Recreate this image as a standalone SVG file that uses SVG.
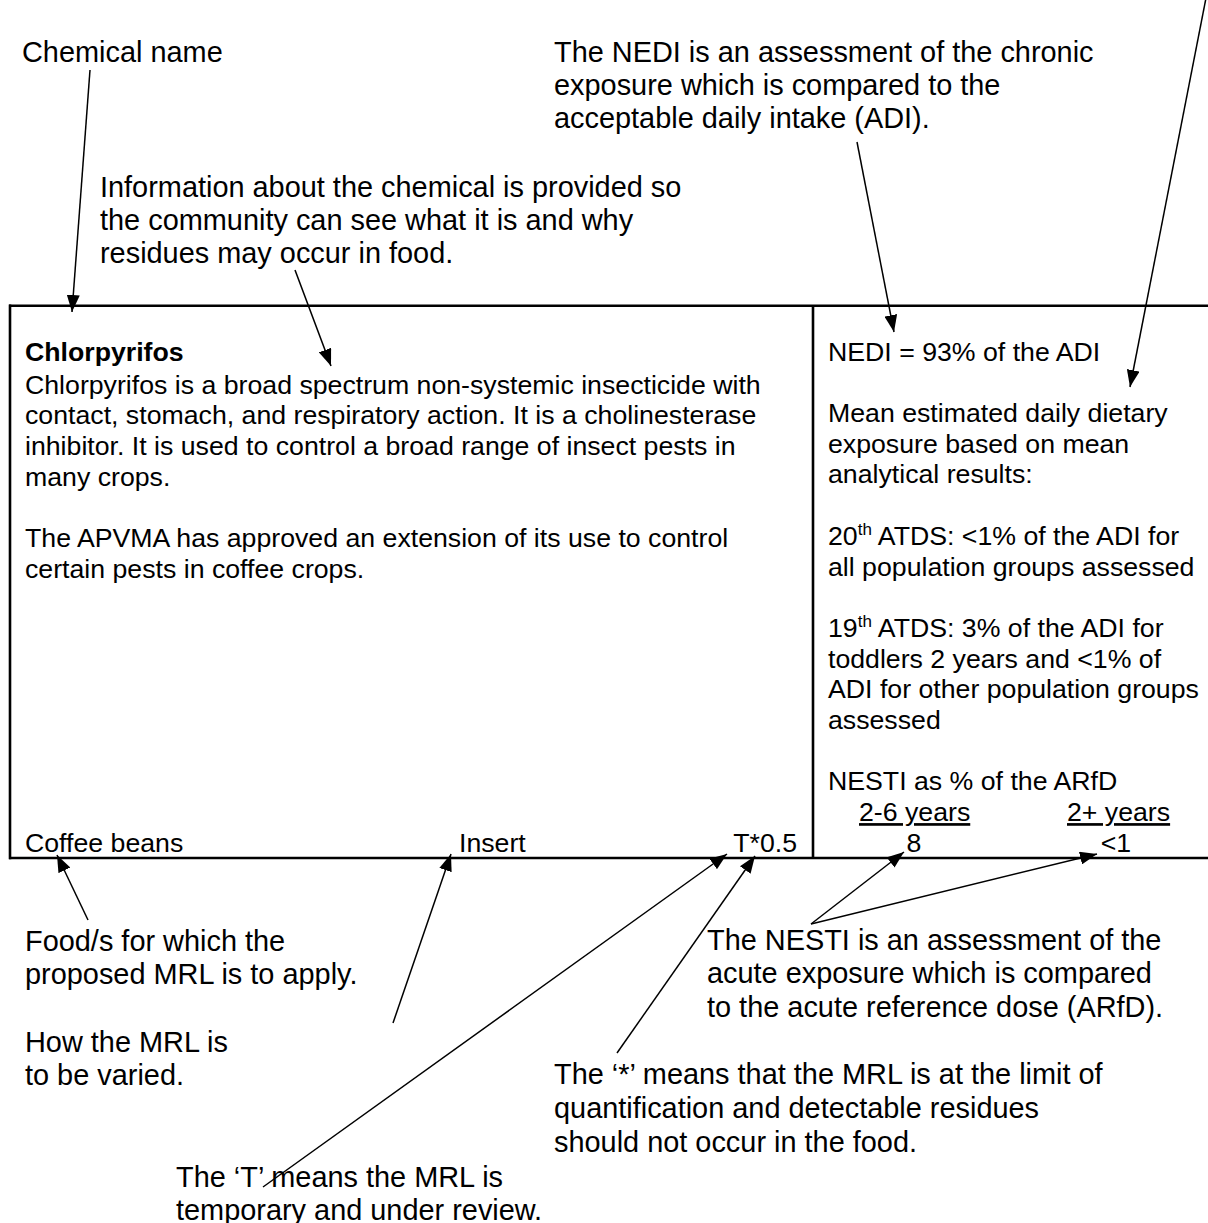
<svg xmlns="http://www.w3.org/2000/svg" width="1208" height="1223" viewBox="0 0 1208 1223">
<style>
text{font-family:"Liberation Sans",Arial,sans-serif;fill:#000}
.ann{font-size:28.9px}
.box{font-size:26.7px}
.b{font-weight:bold}
.sup{font-size:17px}
.u{text-decoration:underline}
.frame{stroke:#000;stroke-width:2.6;fill:none}
.con line{stroke:#000;stroke-width:1.5}
</style>
<defs>
<marker id="ah" viewBox="0 0 17 13" refX="17" refY="6.5" markerWidth="17" markerHeight="13" markerUnits="userSpaceOnUse" orient="auto"><path d="M0,0 L17,6.5 L0,13 z" fill="#000"/></marker>
</defs>
<rect width="1208" height="1223" fill="#fff"/>

<g id="table">
<line class="frame" x1="9" y1="305.7" x2="1210" y2="305.7"/>
<line class="frame" x1="9" y1="858" x2="1210" y2="858"/>
<line class="frame" x1="10" y1="304.5" x2="10" y2="859.2"/>
<line class="frame" x1="813" y1="305.7" x2="813" y2="858"/>
</g>

<g id="chemical-info">
<text class="box b" x="25" y="361">Chlorpyrifos</text>
<text class="box" x="25" y="393.5">Chlorpyrifos is a broad spectrum non-systemic insecticide with</text>
<text class="box" x="25" y="424.2">contact, stomach, and respiratory action. It is a cholinesterase</text>
<text class="box" x="25" y="454.9">inhibitor. It is used to control a broad range of insect pests in</text>
<text class="box" x="25" y="485.6">many crops.</text>
<text class="box" x="25" y="547">The APVMA has approved an extension of its use to control</text>
<text class="box" x="25" y="577.7">certain pests in coffee crops.</text>
</g>

<g id="mrl-row">
<text class="box" x="25" y="851.7">Coffee beans</text>
<text class="box" x="459" y="851.7">Insert</text>
<text class="box" x="797" y="851.7" text-anchor="end">T*0.5</text>
</g>

<g id="exposure-info">
<text class="box" x="828" y="361">NEDI = 93% of the ADI</text>
<text class="box" x="828" y="422">Mean estimated daily dietary</text>
<text class="box" x="828" y="452.7">exposure based on mean</text>
<text class="box" x="828" y="483.4">analytical results:</text>
<text class="box" x="828" y="544.8">20<tspan class="sup" dy="-10">th</tspan><tspan dy="10"> ATDS: &lt;1% of the ADI for</tspan></text>
<text class="box" x="828" y="575.5">all population groups assessed</text>
<text class="box" x="828" y="636.9">19<tspan class="sup" dy="-10">th</tspan><tspan dy="10"> ATDS: 3% of the ADI for</tspan></text>
<text class="box" x="828" y="667.6">toddlers 2 years and &lt;1% of</text>
<text class="box" x="828" y="698.3">ADI for other population groups</text>
<text class="box" x="828" y="729">assessed</text>
<text class="box" x="828" y="790.4">NESTI as % of the ARfD</text>
<text class="box u" x="859" y="821.1">2-6 years</text>
<text class="box u" x="1067" y="821.1">2+ years</text>
<text class="box" x="914" y="851.7" text-anchor="middle">8</text>
<text class="box" x="1116" y="851.7" text-anchor="middle">&lt;1</text>
</g>

<g id="note-chemical-name">
<text class="ann" x="22" y="62">Chemical name</text>
</g>
<g id="note-nedi">
<text class="ann" x="554" y="62">The NEDI is an assessment of the chronic</text>
<text class="ann" x="554" y="95">exposure which is compared to the</text>
<text class="ann" x="554" y="128">acceptable daily intake (ADI).</text>
</g>
<g id="note-information">
<text class="ann" x="100" y="197">Information about the chemical is provided so</text>
<text class="ann" x="100" y="230">the community can see what it is and why</text>
<text class="ann" x="100" y="263">residues may occur in food.</text>
</g>
<g id="note-food">
<text class="ann" x="25" y="951">Food/s for which the</text>
<text class="ann" x="25" y="984">proposed MRL is to apply.</text>
</g>
<g id="note-varied">
<text class="ann" x="25" y="1052">How the MRL is</text>
<text class="ann" x="25" y="1085">to be varied.</text>
</g>
<g id="note-nesti">
<text class="ann" x="707" y="950">The NESTI is an assessment of the</text>
<text class="ann" x="707" y="983">acute exposure which is compared</text>
<text class="ann" x="707" y="1017">to the acute reference dose (ARfD).</text>
</g>
<g id="note-star">
<text class="ann" x="554" y="1084">The ‘*’ means that the MRL is at the limit of</text>
<text class="ann" x="554" y="1118">quantification and detectable residues</text>
<text class="ann" x="554" y="1152">should not occur in the food.</text>
</g>
<g id="note-t">
<text class="ann" x="176" y="1187">The ‘T’ means the MRL is</text>
<text class="ann" x="176" y="1220">temporary and under review.</text>
</g>

<g id="connectors" class="con">
<line x1="90" y1="70" x2="72" y2="312" marker-end="url(#ah)"/>
<line x1="295" y1="270" x2="331" y2="366" marker-end="url(#ah)"/>
<line x1="857" y1="142" x2="894" y2="332" marker-end="url(#ah)"/>
<line x1="1206" y1="-2" x2="1130" y2="387" marker-end="url(#ah)"/>
<line x1="88" y1="920" x2="57" y2="855" marker-end="url(#ah)"/>
<line x1="393" y1="1023" x2="451" y2="854" marker-end="url(#ah)"/>
<line x1="263" y1="1187" x2="727" y2="854" marker-end="url(#ah)"/>
<line x1="617" y1="1053" x2="755" y2="856" marker-end="url(#ah)"/>
<line x1="811" y1="924" x2="904" y2="852" marker-end="url(#ah)"/>
<line x1="811" y1="924" x2="1097" y2="854" marker-end="url(#ah)"/>
</g>
</svg>
